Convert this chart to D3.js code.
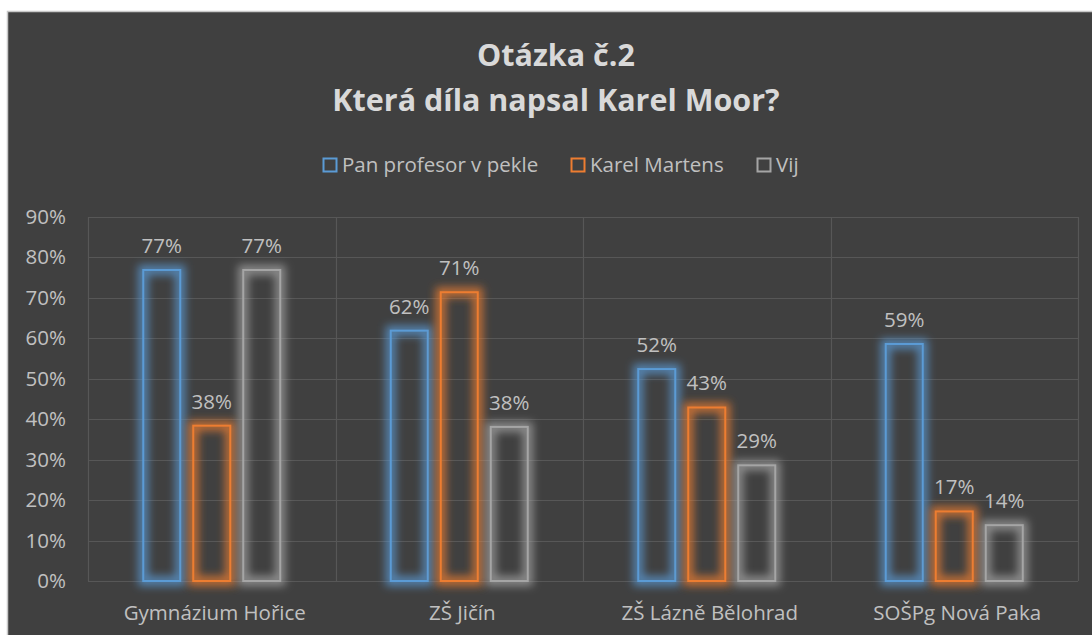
<!DOCTYPE html>
<html>
<head>
<meta charset="utf-8">
<script src="https://cdn.jsdelivr.net/npm/d3@7"></script>
<style>
	body { margin: 0; background: #ffffff; }
	text { font-family: "Open Sans", "Noto Sans", sans-serif; }
</style>
</head>
<body>
<div id="chart"></div>
<script>
	///////////////////////////////////////////////////////////////////////////
	//////////////////////////////// Data ////////////////////////////////////
	///////////////////////////////////////////////////////////////////////////

	var schools = ["Gymnázium Hořice", "ZŠ Jičín", "ZŠ Lázně Bělohrad", "SOŠPg Nová Paka"];
	var seriesNames = ["Pan profesor v pekle", "Karel Martens", "Vij"];
	var seriesColors = ["#5b9bd5", "#ed7d31", "#a5a5a5"];
	var panProfesor = [0.769, 0.619, 0.524, 0.586];
	var karelMartens = [0.384, 0.714, 0.429, 0.172];
	var vij = [0.769, 0.381, 0.286, 0.138];
	var yTicks = [0, 0.1, 0.2, 0.3, 0.4, 0.5, 0.6, 0.7, 0.8, 0.9];

	var series = [panProfesor, karelMartens, vij];

	///////////////////////////////////////////////////////////////////////////
	/////////////////////////// SVG container ////////////////////////////////
	///////////////////////////////////////////////////////////////////////////

	var W = 1092, H = 635;
	var margin = { top: 217, right: 14, bottom: 54, left: 88 };
	var width = W - margin.left - margin.right,
		height = H - margin.top - margin.bottom;
	var fontSize = "20.5px";

	var root = d3.select("#chart").append("svg")
		.attr("width", W)
		.attr("height", H);

	//chart frame
	root.append("rect")
		.attr("x", 7.5).attr("y", 11.5)
		.attr("width", W).attr("height", H)
		.style("fill", "#404040")
		.style("stroke", "#c8c8c8")
		.style("stroke-width", 1.5);

	var defs = root.append("defs");
	var glow = defs.append("filter")
		.attr("id", "glow")
		.attr("x", "-50%").attr("y", "-50%")
		.attr("width", "200%").attr("height", "200%");
	glow.append("feGaussianBlur").attr("stdDeviation", 4);

	var svg = root.append("g")
		.attr("transform", "translate(" + margin.left + "," + margin.top + ")");

	///////////////////////////////////////////////////////////////////////////
	//////////////////////////////// Scales //////////////////////////////////
	///////////////////////////////////////////////////////////////////////////

	var x0 = d3.scaleBand()
		.domain(schools)
		.range([0, width]);

	var x1 = d3.scaleBand()
		.domain(d3.range(series.length))
		.range([x0.bandwidth() / 2 - 75, x0.bandwidth() / 2 + 75])
		.paddingInner(0.26)
		.paddingOuter(0.13);

	var y = d3.scaleLinear()
		.domain([0, 0.9])
		.range([height, 0]);

	var pct = d3.format(".0%");

	//horizontal gridlines
	svg.selectAll(".hgrid")
		.data(yTicks)
		.enter().append("line")
		.attr("x1", 0).attr("x2", width)
		.attr("y1", function(d) { return Math.round(y(d)) + 0.5; })
		.attr("y2", function(d) { return Math.round(y(d)) + 0.5; })
		.style("stroke", "#575757")
		.style("stroke-width", 1.2);

	//vertical separators between categories
	svg.selectAll(".vgrid")
		.data(schools.concat(["end"]))
		.enter().append("line")
		.attr("x1", function(d, i) { return Math.round(i * x0.step()) + 0.5; })
		.attr("x2", function(d, i) { return Math.round(i * x0.step()) + 0.5; })
		.attr("y1", 0).attr("y2", height)
		.style("stroke", "#575757")
		.style("stroke-width", 1.2);

	//y axis labels
	svg.selectAll(".yLabel")
		.data(yTicks)
		.enter().append("text")
		.attr("x", -22)
		.attr("y", function(d) { return y(d) + 7; })
		.style("text-anchor", "end")
		.style("font-size", fontSize)
		.style("fill", "#c0c0c0")
		.text(function(d) { return pct(d); });

	//x axis labels
	svg.selectAll(".xLabel")
		.data(schools)
		.enter().append("text")
		.attr("x", function(d) { return x0(d) + x0.bandwidth() / 2 + 3; })
		.attr("y", height + 39)
		.style("text-anchor", "middle")
		.style("font-size", fontSize)
		.style("fill", "#c0c0c0")
		.text(function(d) { return d; });

	///////////////////////////////////////////////////////////////////////////
	//////////////////////////////// Bars ////////////////////////////////////
	///////////////////////////////////////////////////////////////////////////

	var groups = svg.selectAll(".school")
		.data(schools)
		.enter().append("g")
		.attr("transform", function(d) { return "translate(" + x0(d) + ",0)"; });

	var cells = groups.selectAll(".bar")
		.data(function(d, i) {
			return series.map(function(s, k) { return { k: k, v: s[i] }; });
		})
		.enter().append("g");

	//glow
	cells.append("rect")
		.attr("x", function(d) { return x1(d.k); })
		.attr("y", function(d) { return y(d.v); })
		.attr("width", x1.bandwidth())
		.attr("height", function(d) { return height - y(d.v); })
		.style("fill", "none")
		.style("stroke", function(d) { return seriesColors[d.k]; })
		.style("stroke-width", 10)
		.style("stroke-opacity", 0.75)
		.attr("filter", "url(#glow)");

	//outline
	cells.append("rect")
		.attr("x", function(d) { return x1(d.k); })
		.attr("y", function(d) { return y(d.v); })
		.attr("width", x1.bandwidth())
		.attr("height", function(d) { return height - y(d.v); })
		.style("fill", "none")
		.style("stroke", function(d) { return seriesColors[d.k]; })
		.style("stroke-width", 2);

	//value labels
	cells.append("text")
		.attr("x", function(d) { return x1(d.k) + x1.bandwidth() / 2; })
		.attr("y", function(d) { return y(d.v) - 17; })
		.style("text-anchor", "middle")
		.style("font-size", fontSize)
		.style("fill", "#c0c0c0")
		.text(function(d) { return pct(d.v); });

	///////////////////////////////////////////////////////////////////////////
	/////////////////////////// Title and legend /////////////////////////////
	///////////////////////////////////////////////////////////////////////////

	root.append("text")
		.attr("x", 556).attr("y", 66)
		.style("text-anchor", "middle")
		.style("font-size", "30.5px")
		.style("font-weight", "bold")
		.style("fill", "#d9d9d9")
		.text("Otázka č.2");
	root.append("text")
		.attr("x", 556).attr("y", 111)
		.style("text-anchor", "middle")
		.style("font-size", "30.5px")
		.style("font-weight", "bold")
		.style("fill", "#d9d9d9")
		.text("Která díla napsal Karel Moor?");

	var legendX = [323, 571, 757];
	var legend = root.selectAll(".legendItem")
		.data(seriesNames)
		.enter().append("g")
		.attr("transform", function(d, i) { return "translate(" + legendX[i] + ",158)"; });

	legend.append("rect")
		.attr("x", 0.5).attr("y", 0.5)
		.attr("width", 13).attr("height", 13)
		.style("fill", "none")
		.style("stroke", function(d, i) { return seriesColors[i]; })
		.style("stroke-width", 2);

	legend.append("text")
		.attr("x", 19).attr("y", 14)
		.style("font-size", fontSize)
		.style("fill", "#c0c0c0")
		.text(function(d) { return d; });
</script>
</body>
</html>
